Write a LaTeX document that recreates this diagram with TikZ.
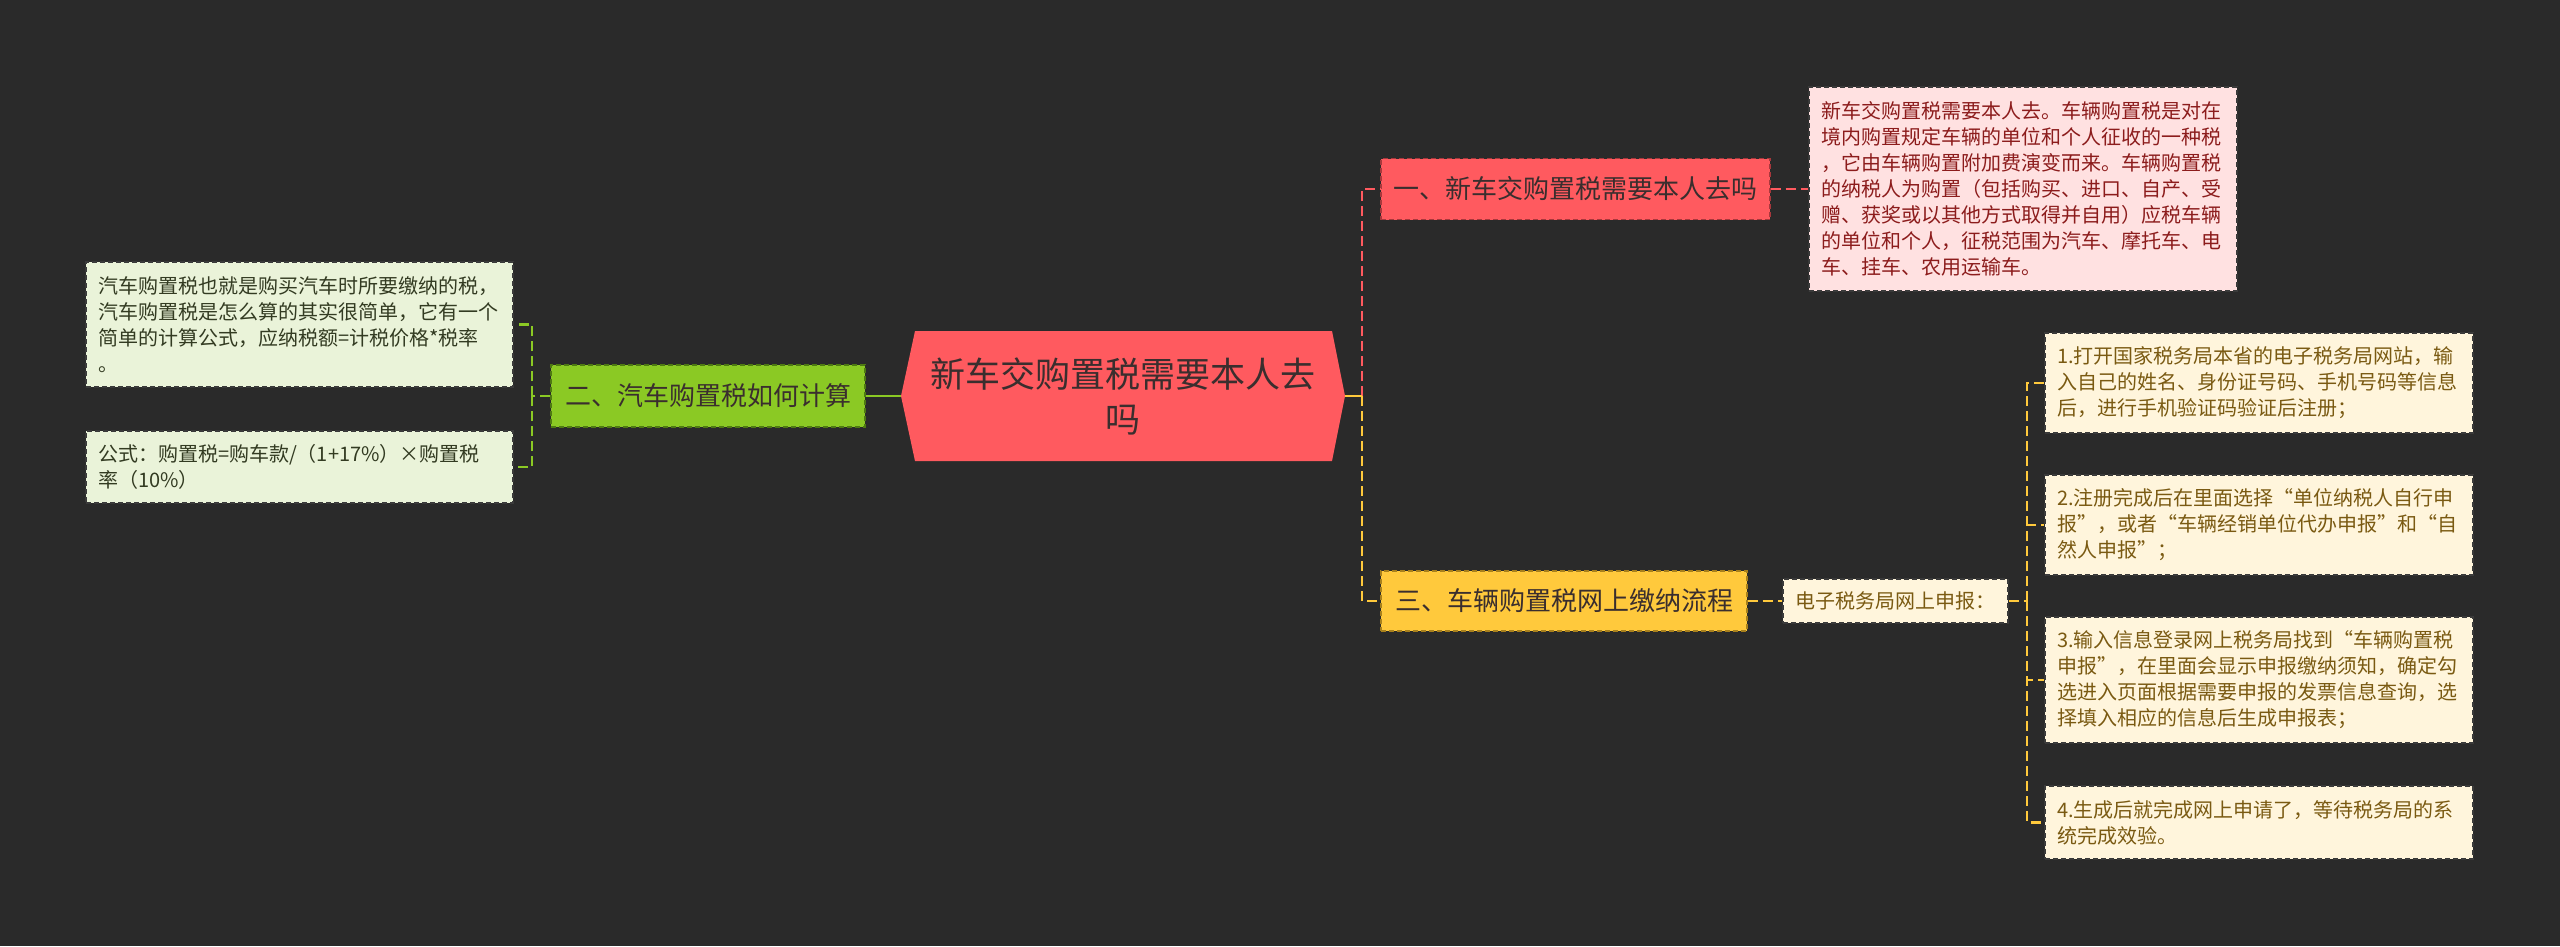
\documentclass[tikz,border=0pt]{standalone}
\usepackage{fontspec}
\setmainfont{Noto Sans CJK SC}
\usetikzlibrary{calc}
\definecolor{bg}{HTML}{2A2A2A}
\definecolor{redc}{HTML}{FF5A5F}
\definecolor{redborder}{HTML}{A8383C}
\definecolor{greenc}{HTML}{8BC924}
\definecolor{greenborder}{HTML}{4E7A12}
\definecolor{yellowc}{HTML}{FFC93C}
\definecolor{yellowborder}{HTML}{A8801C}
\definecolor{darktext}{HTML}{3A2E2E}
\definecolor{pinkfill}{HTML}{FFE1E1}
\definecolor{pinktext}{HTML}{8C1C1C}
\definecolor{lgreenfill}{HTML}{EAF3D9}
\definecolor{lgreentext}{HTML}{333B22}
\definecolor{creamfill}{HTML}{FFF5DC}
\definecolor{creamtext}{HTML}{7A5A12}
\definecolor{leafborder}{HTML}{3A3A3A}
\begin{document}
\begin{tikzpicture}[x=1pt,y=-1pt,
  branchbox/.style={dash pattern=on 5pt off 3pt, line width=1.2pt, inner sep=0pt,
    text=darktext, font=\fontsize{26}{30}\selectfont},
  leafbox/.style={draw=leafborder, dash pattern=on 5pt off 3pt, line width=1.2pt,
    align=left, inner xsep=12pt, inner ysep=0pt, text width=404pt,
    minimum width=428pt, font=\fontsize{20}{26}\selectfont},
  conn/.style={line width=2.2pt, dash pattern=on 10pt off 5pt},
  solidconn/.style={line width=2.2pt}
]
\fill[bg] (0,0) rectangle (2560,946);
\useasboundingbox (0,0) rectangle (2560,946);

% root
\coordinate (rootc) at (1123,396);
\fill[redc] ($(rootc)+(-222,0)$) -- ($(rootc)+(-208,-65)$) -- ($(rootc)+(209,-65)$)
  -- ($(rootc)+(222,0)$) -- ($(rootc)+(209,65)$) -- ($(rootc)+(-208,65)$) -- cycle;
\node[align=center, font=\fontsize{35}{45}\selectfont, text=darktext,
  minimum width=444pt, minimum height=130pt, inner sep=0pt] (root) at (rootc)
  {新车交购置税需要本人去\\吗};

% branches
\node[branchbox, fill=redc, draw=redborder, minimum width=389pt, minimum height=61pt]
  (b1) at (1575.5,189) {一、新车交购置税需要本人去吗};
\node[branchbox, fill=greenc, draw=greenborder, minimum width=314pt, minimum height=62pt]
  (b2) at (708,396) {二、汽车购置税如何计算};
\node[branchbox, fill=yellowc, draw=yellowborder, minimum width=366pt, minimum height=60pt]
  (b3) at (1564,601) {三、车辆购置税网上缴纳流程};

% leaf of branch 1
\node[leafbox, fill=pinkfill, text=pinktext, minimum height=204pt] (l1) at (2023,189)
  {新车交购置税需要本人去。车辆购置税是对在\\
   境内购置规定车辆的单位和个人征收的一种税\\
   ，它由车辆购置附加费演变而来。车辆购置税\\
   的纳税人为购置（包括购买、进口、自产、受\\
   赠、获奖或以其他方式取得并自用）应税车辆\\
   的单位和个人，征税范围为汽车、摩托车、电\\
   车、挂车、农用运输车。};

% leaves of branch 2
\node[leafbox, fill=lgreenfill, text=lgreentext, minimum height=125pt, minimum width=427pt, text width=403pt]
  (l2a) at (299.5,324.5)
  {汽车购置税也就是购买汽车时所要缴纳的税，\\
   汽车购置税是怎么算的其实很简单，它有一个\\
   简单的计算公式，应纳税额=计税价格*税率\\
   。};
\node[leafbox, fill=lgreenfill, text=lgreentext, minimum height=72pt, minimum width=427pt, text width=403pt]
  (l2b) at (299.5,467)
  {公式：购置税=购车款/（1+17\%）×购置税\\
   率（10\%）};

% branch 3 children
\node[draw=leafborder, dash pattern=on 5pt off 3pt, line width=1.2pt, fill=creamfill,
  text=creamtext, font=\fontsize{20}{26}\selectfont, inner sep=0pt,
  minimum width=225pt, minimum height=44pt] (sub) at (1895.5,601) {电子税务局网上申报：};

\node[leafbox, fill=creamfill, text=creamtext, minimum height=100pt] (l31) at (2259,383)
  {1.打开国家税务局本省的电子税务局网站，输\\
   入自己的姓名、身份证号码、手机号码等信息\\
   后，进行手机验证码验证后注册；};
\node[leafbox, fill=creamfill, text=creamtext, minimum height=100pt] (l32) at (2259,525)
  {2.注册完成后在里面选择“单位纳税人自行申\\
   报”，或者“车辆经销单位代办申报”和“自\\
   然人申报”；};
\node[leafbox, fill=creamfill, text=creamtext, minimum height=126pt] (l33) at (2259,680)
  {3.输入信息登录网上税务局找到“车辆购置税\\
   申报”，在里面会显示申报缴纳须知，确定勾\\
   选进入页面根据需要申报的发票信息查询，选\\
   择填入相应的信息后生成申报表；};
\node[leafbox, fill=creamfill, text=creamtext, minimum height=73pt] (l34) at (2259,822.5)
  {4.生成后就完成网上申请了，等待税务局的系\\
   统完成效验。};

% connectors right of root
\coordinate (jr) at (1362,396);
\draw[conn, redc] (jr) |- (b1.west);
\draw[conn, yellowc] (jr) |- (b3.west);
\draw[solidconn, yellowc] (root.east) -- (jr);

% connectors left of root
\draw[solidconn, greenc] (root.west) -- (b2.east);
\coordinate (jl) at (532,396);
\draw[conn, greenc] (b2.west) -- (jl);
\draw[conn, greenc] (jl) |- (l2a.east);
\draw[conn, greenc] (jl) |- (l2b.east);

% branch 1 to leaf
\draw[conn, redc] (b1.east) -- (l1.west);

% branch 3 to sub and leaves
\draw[conn, yellowc] (b3.east) -- (sub.west);
\coordinate (jy) at (2027,601);
\draw[conn, yellowc] (sub.east) -- (jy);
\draw[conn, yellowc] (jy) |- (l31.west);
\draw[conn, yellowc] (jy) |- (l32.west);
\draw[conn, yellowc] (jy) |- (l33.west);
\draw[conn, yellowc] (jy) |- (l34.west);
\end{tikzpicture}
\end{document}
